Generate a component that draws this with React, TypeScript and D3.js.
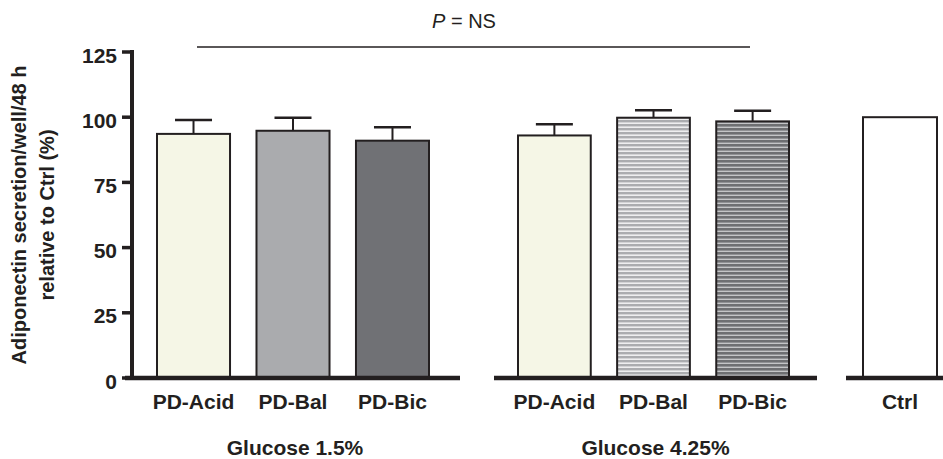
import React from 'react';
import * as d3 from 'd3';

const groups = ['Glucose 1.5%', 'Glucose 4.25%', ''];
const categories = [
  ['PD-Acid', 'PD-Bal', 'PD-Bic'],
  ['PD-Acid', 'PD-Bal', 'PD-Bic'],
  ['Ctrl'],
];
const means = [
  [93.6, 94.8, 91.0],
  [93.0, 99.8, 98.4],
  [100],
];
const errors = [
  [5.3, 5.0, 5.1],
  [4.3, 2.9, 4.1],
  [0],
];
const fills = [
  ['#f5f6e6', '#aaabae', '#707175'],
  ['#f5f6e6', 'url(#stripeLight)', 'url(#stripeDark)'],
  ['#ffffff'],
];
const yTicks = [0, 25, 50, 75, 100, 125];

const W = 943;
const H = 459;
const font = '"Liberation Sans", Arial, Helvetica, sans-serif';
const ink = '#231f20';

// bar extents and baseline extents per group (pixels)
const barRanges: [number, number][] = [[157, 429], [518, 789], [863, 937]];
const baseRanges: [number, number][] = [[125, 460], [494, 817], [846, 943]];

export default function App() {
  const y = d3.scaleLinear().domain([0, 125]).range([378, 52]);
  const axisX = 132;

  return (
    <svg width={W} height={H} style={{ position: 'absolute', left: 0, top: 0, background: '#fff' }}>
      <defs>
        <pattern id="stripeLight" width="6" height="4" patternUnits="userSpaceOnUse">
          <rect width="6" height="4" fill="#eeeeef" />
          <rect width="6" height="2.4" fill="#abacaf" />
        </pattern>
        <pattern id="stripeDark" width="6" height="4" patternUnits="userSpaceOnUse">
          <rect width="6" height="4" fill="#c4c5c7" />
          <rect width="6" height="2.6" fill="#6e6f72" />
        </pattern>
      </defs>

      {/* P = NS */}
      <text x={464} y={28} textAnchor="middle" fontFamily={font} fontSize={20} fill={ink}>
        <tspan fontStyle="italic">P</tspan> = NS
      </text>
      <line x1={197} x2={750} y1={47} y2={47} stroke={ink} strokeWidth={1.5} />

      {/* y axis */}
      <line x1={axisX} x2={axisX} y1={y(125) - 2} y2={y(0)} stroke={ink} strokeWidth={4} />
      {yTicks.map(t => (
        <g key={t}>
          <line x1={axisX - 10} x2={axisX} y1={y(t)} y2={y(t)} stroke={ink} strokeWidth={3.5} />
          <text x={117} y={y(t)} dy="0.5em" textAnchor="end" fontFamily={font}
            fontWeight="bold" fontSize={21} fill={ink}>{t}</text>
        </g>
      ))}
      <g transform="translate(0,215) rotate(-90)" fontFamily={font} fontWeight="bold" fontSize={20} fill={ink} textAnchor="middle">
        <text x={0} y={26}>Adiponectin secretion/well/48 h</text>
        <text x={0} y={54}>relative to Ctrl (%)</text>
      </g>

      {groups.map((g, gi) => {
        const x = d3.scaleBand<string>()
          .domain(categories[gi].map((c, i) => c + i))
          .range(barRanges[gi])
          .paddingInner(categories[gi].length > 1 ? 0.266 : 0);
        const [b0, b1] = baseRanges[gi];
        return (
          <g key={gi}>
            {categories[gi].map((c, i) => {
              const x0 = x(c + i) as number;
              const bw = x.bandwidth();
              const cx = x0 + bw / 2;
              const top = y(means[gi][i]);
              const errTop = y(means[gi][i] + errors[gi][i]);
              return (
                <g key={i}>
                  <rect x={x0} y={top} width={bw} height={y(0) - top} fill={fills[gi][i]}
                    stroke={ink} strokeWidth={2} />
                  {errors[gi][i] > 0 && (
                    <g stroke={ink}>
                      <line x1={cx} x2={cx} y1={top} y2={errTop} strokeWidth={2} />
                      <line x1={cx - 18.5} x2={cx + 18.5} y1={errTop} y2={errTop} strokeWidth={2.5} />
                    </g>
                  )}
                  <text x={cx} y={409} textAnchor="middle" fontFamily={font}
                    fontWeight="bold" fontSize={21} fill={ink}>{c}</text>
                </g>
              );
            })}
            <line x1={b0} x2={b1} y1={y(0)} y2={y(0)} stroke={ink} strokeWidth={4.5} />
            {g && (
              <text x={(barRanges[gi][0] + barRanges[gi][1]) / 2 + 2} y={455} textAnchor="middle"
                fontFamily={font} fontWeight="bold" fontSize={21} fill={ink}>{g}</text>
            )}
          </g>
        );
      })}
    </svg>
  );
}
